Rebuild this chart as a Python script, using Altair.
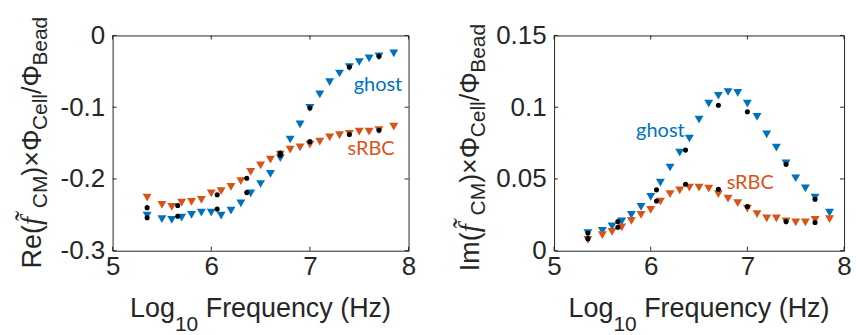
import altair as alt
import pandas as pd

# ---------------- data ----------------
freq = [5.35, 5.50, 5.60, 5.70, 5.80, 5.90, 6.00, 6.10, 6.20, 6.30, 6.40, 6.50, 6.60,
        6.70, 6.80, 6.90, 7.00, 7.10, 7.20, 7.30, 7.40, 7.50, 7.60, 7.70, 7.85]

ghost_re = [-0.251, -0.256, -0.257, -0.254, -0.250, -0.247, -0.247, -0.251, -0.244, -0.234,
            -0.220, -0.207, -0.193, -0.171, -0.145, -0.124, -0.101, -0.082, -0.065, -0.053,
            -0.044, -0.037, -0.032, -0.029, -0.025]
srbc_re = [-0.226, -0.236, -0.239, -0.233, -0.232, -0.229, -0.220, -0.217, -0.211, -0.203,
           -0.190, -0.181, -0.173, -0.166, -0.159, -0.156, -0.152, -0.148, -0.142, -0.139,
           -0.137, -0.134, -0.134, -0.132, -0.127]

ghost_im = [0.0123, 0.0139, 0.0169, 0.0204, 0.0250, 0.0306, 0.0375, 0.0475, 0.0580, 0.0683,
            0.0782, 0.0914, 0.1025, 0.1080, 0.1106, 0.1100, 0.1025, 0.0933, 0.0810, 0.0718,
            0.0609, 0.0505, 0.0435, 0.0370, 0.0266]
srbc_im = [0.0076, 0.0109, 0.0132, 0.0162, 0.0208, 0.0250, 0.0285, 0.0343, 0.0394, 0.0421,
           0.0440, 0.0440, 0.0433, 0.0394, 0.0363, 0.0331, 0.0294, 0.0255, 0.0225, 0.0225,
           0.0204, 0.0197, 0.0197, 0.0215, 0.0220]

dot_freq = [5.35, 5.66, 6.06, 6.36, 6.70, 7.00, 7.40, 7.70]
dot_re_a = [-0.240, -0.237, -0.222, -0.199, -0.164, -0.101, -0.044, -0.029]
dot_re_b = [-0.254, -0.252, -0.242, -0.219, -0.167, -0.148, -0.138, -0.132]
dot_im_a = [0.0123, 0.0204, 0.0424, 0.0701, 0.1014, 0.0968, 0.0602, 0.0359]
dot_im_b = [0.0084, 0.0164, 0.0347, 0.0463, 0.0428, 0.0308, 0.0204, 0.0197]

series_names = ["ghost", "sRBC"]
x_ticks = [5, 6, 7, 8]
re_ticks = [0, -0.1, -0.2, -0.3]
im_ticks = [0, 0.05, 0.1, 0.15]

re_note_x = [7.69, 7.62]
re_note_y = [-0.0685, -0.158]
im_note_x = [6.10, 7.03]
im_note_y = [0.0833, 0.0474]

# ---------------- styling ----------------
BLUE = "#0072BD"
ORANGE = "#D95319"
INK = "#262626"
FONT = "Liberation Sans"
W_L, W_R, H = 297, 291, 216
TICK_FS = 26
TITLE_FS = 27
SUB_FS = 21

ARIAL = {'L': 556, 'o': 556, 'g': 556, '1': 556, '0': 556, ' ': 278, 'F': 611, 'r': 333,
         'e': 556, 'q': 556, 'u': 556, 'n': 556, 'c': 500, 'y': 500, '(': 333, 'H': 722,
         'z': 500, ')': 333, 'R': 722, 'C': 722, 'M': 833, '\u00d7': 584, '\u03a6': 778,
         'l': 222, '/': 278, 'B': 667, 'a': 556, 'd': 556, 'I': 278, 'm': 833}


def tw(s, size):
    return sum(ARIAL.get(ch, 556) for ch in s) * size / 1000.0


one = pd.DataFrame({"k": [0]})


def title_layers(segments, cx, cy, vertical):
    # segments: (text, size, shift, italic, font, advance or None)
    advs = [a if a is not None else tw(t, s) for (t, s, sh, it, f, a) in segments]
    total = sum(advs)
    pos = -total / 2.0
    layers = []
    for (t, s, sh, it, f, a), adv in zip(segments, advs):
        if vertical:
            x, y = cx + sh, cy - pos
        else:
            x, y = cx + pos, cy + sh
        layers.append(
            alt.Chart(one).mark_text(
                text=t, fontSize=s, font=f, fontStyle="italic" if it else "normal",
                align="left", baseline="alphabetic", angle=270 if vertical else 0, color=INK
            ).encode(x=alt.value(x), y=alt.value(y))
        )
        pos += adv
    return layers


def xtitle(W):
    segs = [("Log", TITLE_FS, 0, False, FONT, None),
            ("10", SUB_FS, 14, False, FONT, tw("10", SUB_FS) + tw(" ", TITLE_FS)),
            ("Frequency (Hz)", TITLE_FS, 0, False, FONT, None)]
    return title_layers(segs, W / 2.0, 283, False)


def ytitle(prefix, cx, cy):
    segs = [(prefix, TITLE_FS, 0, False, FONT, None),
            ("f\u0303", 29, 0, True, "Liberation Serif", 17),
            ("CM", SUB_FS, 6, False, FONT, None),
            (")\u00d7\u03a6", TITLE_FS, 0, False, FONT, None),
            ("Cell", SUB_FS, 6, False, FONT, None),
            ("/\u03a6", TITLE_FS, 0, False, FONT, None),
            ("Bead", SUB_FS, 6, False, FONT, None)]
    return title_layers(segs, cx, cy, True)


def panel(ga, sa, da, db, ydom, yticks, nx, ny, W, ylabel_layers, pin):
    tri_df = pd.DataFrame({
        "freq": freq + freq,
        "value": ga + sa,
        "series": [series_names[0]] * len(freq) + [series_names[1]] * len(freq),
    })
    dot_df = pd.DataFrame({"freq": dot_freq + dot_freq, "value": da + db})
    note_df = pd.DataFrame({"freq": nx, "value": ny, "series": series_names})
    xt_df = pd.DataFrame({"freq": x_ticks})
    yt_df = pd.DataFrame({"value": yticks})

    xs = alt.Scale(domain=[5, 8], nice=False, zero=False)
    ys = alt.Scale(domain=ydom, nice=False, zero=False)
    cs = alt.Scale(domain=series_names, range=[BLUE, ORANGE])

    xaxis = alt.Axis(values=x_ticks, title=None, grid=False, ticks=False, domain=False,
                     labelFontSize=TICK_FS, labelFont=FONT, labelColor=INK, labelPadding=3,
                     labelFlush=False, labelOverlap=False)
    yaxis = alt.Axis(values=yticks, title=None, grid=False, ticks=False, domain=False,
                     labelFontSize=TICK_FS, labelFont=FONT, labelColor=INK, labelPadding=8,
                     labelFlush=False, labelOverlap=False,
                     labelExpr="replace(format(datum.value, '.2~f'), '\u2212', '-')")
    X = alt.X("freq:Q", scale=xs, axis=xaxis)
    Y = alt.Y("value:Q", scale=ys, axis=yaxis)

    tri = alt.Chart(tri_df).mark_point(shape="triangle-down", filled=True, size=80, opacity=1).encode(
        x=X, y=Y, color=alt.Color("series:N", scale=cs, legend=None),
    )
    dots = alt.Chart(dot_df).mark_circle(size=26, color="black", opacity=1).encode(x=X, y=Y)
    notes = alt.Chart(note_df).mark_text(font="Lato", fontSize=20, baseline="middle", align="center").encode(
        x=X, y=Y, text="series:N", color=alt.Color("series:N", scale=cs, legend=None),
    )
    tick_style = dict(color=INK, strokeWidth=1)
    xt_bot = alt.Chart(xt_df).mark_rule(**tick_style).encode(x=X, y=alt.value(H), y2=alt.value(H - 4))
    xt_top = alt.Chart(xt_df).mark_rule(**tick_style).encode(x=X, y=alt.value(0), y2=alt.value(4))
    yt_left = alt.Chart(yt_df).mark_rule(**tick_style).encode(y=Y, x=alt.value(0), x2=alt.value(4))
    yt_right = alt.Chart(yt_df).mark_rule(**tick_style).encode(y=Y, x=alt.value(W - 4), x2=alt.value(W))
    pin_layer = alt.Chart(one).mark_rule(strokeOpacity=0, opacity=0).encode(
        x=alt.value(pin[0]), y=alt.value(pin[1]), x2=alt.value(pin[0] + 1), y2=alt.value(pin[1] + 1))

    layers = [tri, dots, notes, xt_bot, xt_top, yt_left, yt_right, pin_layer] + ylabel_layers + xtitle(W)
    return alt.layer(*layers).properties(width=W, height=H)


left = panel(ghost_re, srbc_re, dot_re_a, dot_re_b, [-0.3, 0], re_ticks, re_note_x, re_note_y,
             W_L, ytitle("Re(", -72, 107.5), (-112, -34))
right = panel(ghost_im, srbc_im, dot_im_a, dot_im_b, [0, 0.15], im_ticks, im_note_x, im_note_y,
              W_R, ytitle("Im(", -75, 112.5), (856 - 555, 335 - 34))

chart = alt.hconcat(left, right, spacing=146, bounds="flush", padding=0).configure_view(
    stroke=INK, strokeWidth=1
).properties(background="white")

chart.save("out.html", embed_options={"renderer": "svg", "actions": False})
